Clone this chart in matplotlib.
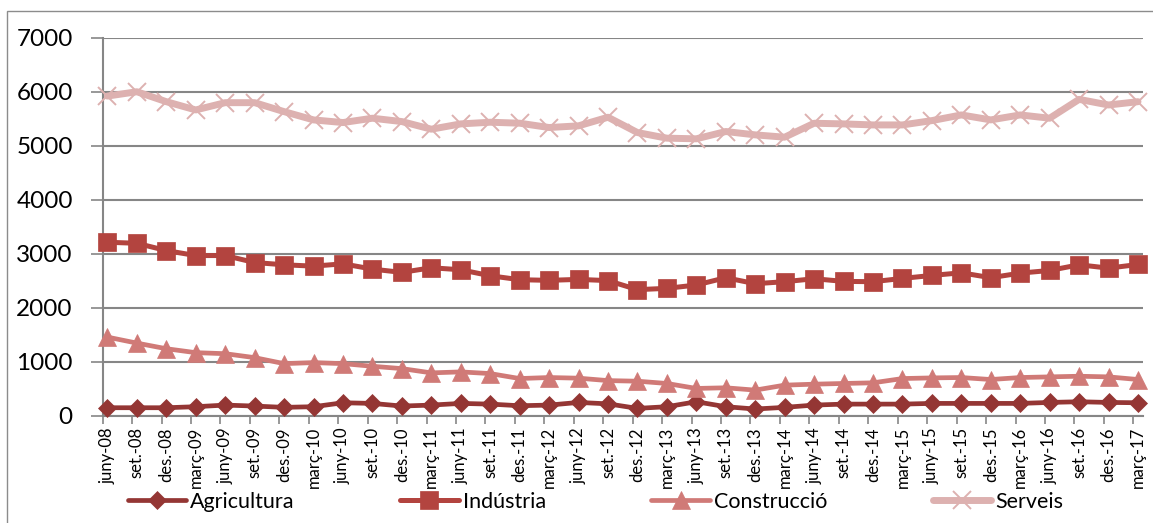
import matplotlib
matplotlib.use("Agg")
import matplotlib.pyplot as plt
from matplotlib.patches import Rectangle
import numpy as np

categories = ["juny-08", "set.-08", "des.-08",
              "març-09", "juny-09", "set.-09", "des.-09",
              "març-10", "juny-10", "set.-10", "des.-10",
              "març-11", "juny-11", "set.-11", "des.-11",
              "març-12", "juny-12", "set.-12", "des.-12",
              "març-13", "juny-13", "set.-13", "des.-13",
              "març-14", "juny-14", "set.-14", "des.-14",
              "març-15", "juny-15", "set.-15", "des.-15",
              "març-16", "juny-16", "set.-16", "des.-16",
              "març-17"]

agricultura = [153, 153, 153, 172, 202, 184, 160, 172, 245, 233, 184, 202,
               233, 220, 190, 202, 251, 225, 141, 172, 264, 172, 129, 160,
               202, 220, 220, 220, 233, 233, 233, 233, 251, 264, 251, 245]
industria = [3215, 3196, 3061, 2969, 2969, 2840, 2798, 2773, 2816, 2718, 2657, 2743,
             2706, 2595, 2522, 2510, 2528, 2505, 2338, 2362, 2424, 2559, 2448, 2485,
             2540, 2491, 2485, 2546, 2601, 2650, 2559, 2644, 2693, 2798, 2736, 2804]
construccio = [1460, 1349, 1245, 1172, 1153, 1080, 969, 988, 969, 920, 877, 798,
               816, 785, 693, 712, 700, 655, 644, 602, 510, 522, 479, 571,
               589, 602, 614, 693, 705, 712, 675, 712, 724, 736, 724, 675]
serveis = [5920, 6000, 5816, 5663, 5798, 5798, 5632, 5479, 5430, 5510, 5448, 5307,
           5405, 5436, 5418, 5338, 5369, 5528, 5245, 5141, 5129, 5264, 5202, 5159,
           5417, 5405, 5386, 5386, 5466, 5571, 5479, 5571, 5510, 5859, 5755, 5816]

series_names = ["Agricultura", "Indústria", "Construcció", "Serveis"]
y_ticks = [0, 1000, 2000, 3000, 4000, 5000, 6000, 7000]

W, H = 1153, 523
fig = plt.figure(figsize=(W / 100, H / 100), dpi=100)
font = "Lato"
plt.rcParams["font.family"] = [font, "DejaVu Sans"]

ax = fig.add_axes([102.7 / W, 1 - 416 / H, (1143 - 102.7) / W, (416 - 37.7) / H])

x = np.arange(len(categories))
styles = [
    dict(color="#943634", marker="D", ms=9.5, lw=3.4),
    dict(color="#B3443F", marker="s", ms=13.5, lw=3.6),
    dict(color="#D07A77", marker="^", ms=13.5, lw=3.4),
    dict(color="#DDB1B0", marker="x", ms=13, lw=5.0, mew=1.4),
]
handles = []
for vals, name, st in zip([agricultura, industria, construccio, serveis], series_names, styles):
    h, = ax.plot(x, vals, color=st["color"], marker=st["marker"], markersize=st["ms"],
                 linewidth=st["lw"], markeredgewidth=st.get("mew", 0.5),
                 markeredgecolor=st["color"], markerfacecolor=st["color"],
                 label=name, solid_joinstyle="round", solid_capstyle="round",
                 zorder=3, clip_on=False)
    handles.append(h)

ax.set_xlim(-0.16, 35.17)
ax.set_ylim(0, 7000)
ax.set_yticks(y_ticks)
ax.set_yticklabels([str(v) for v in y_ticks], fontsize=17.5, family=[font, "DejaVu Sans"])
ax.yaxis.grid(True, color="#868686", linewidth=1.5, zorder=0)
ax.set_axisbelow(True)

ax.set_xticks(x)
ax.set_xticklabels(categories, rotation=90, fontsize=12, family=[font, "DejaVu Sans"],
                   va="top", ha="center")
ax.set_xticks(x - 0.16, minor=True)
ax.tick_params(axis="x", which="major", length=0, pad=8)
ax.tick_params(axis="x", which="minor", length=6, width=1.2, color="#868686", direction="out")
ax.tick_params(axis="y", length=8.5, width=1.2, color="#868686", pad=13, direction="out")

for s in ["top", "right"]:
    ax.spines[s].set_visible(False)
for s in ["left", "bottom"]:
    ax.spines[s].set_color("#868686")
    ax.spines[s].set_linewidth(1.5)

leg = fig.legend(handles=handles, labels=series_names, ncol=4, loc="center left",
                 bbox_to_anchor=(128 / W, 1 - 502 / H), frameon=False,
                 handlelength=2.7, handletextpad=0.2,
                 columnspacing=4.9, borderpad=0, borderaxespad=0,
                 prop={"family": [font, "DejaVu Sans"], "size": 15.5})

border = Rectangle((6.5 / W, -0.1), 1.2, 1 - 11 / H + 0.1, transform=fig.transFigure,
                   fill=False, edgecolor="#8C8C8C", linewidth=1.0)
fig.patches.append(border)

fig.savefig("out.png", dpi=100)
